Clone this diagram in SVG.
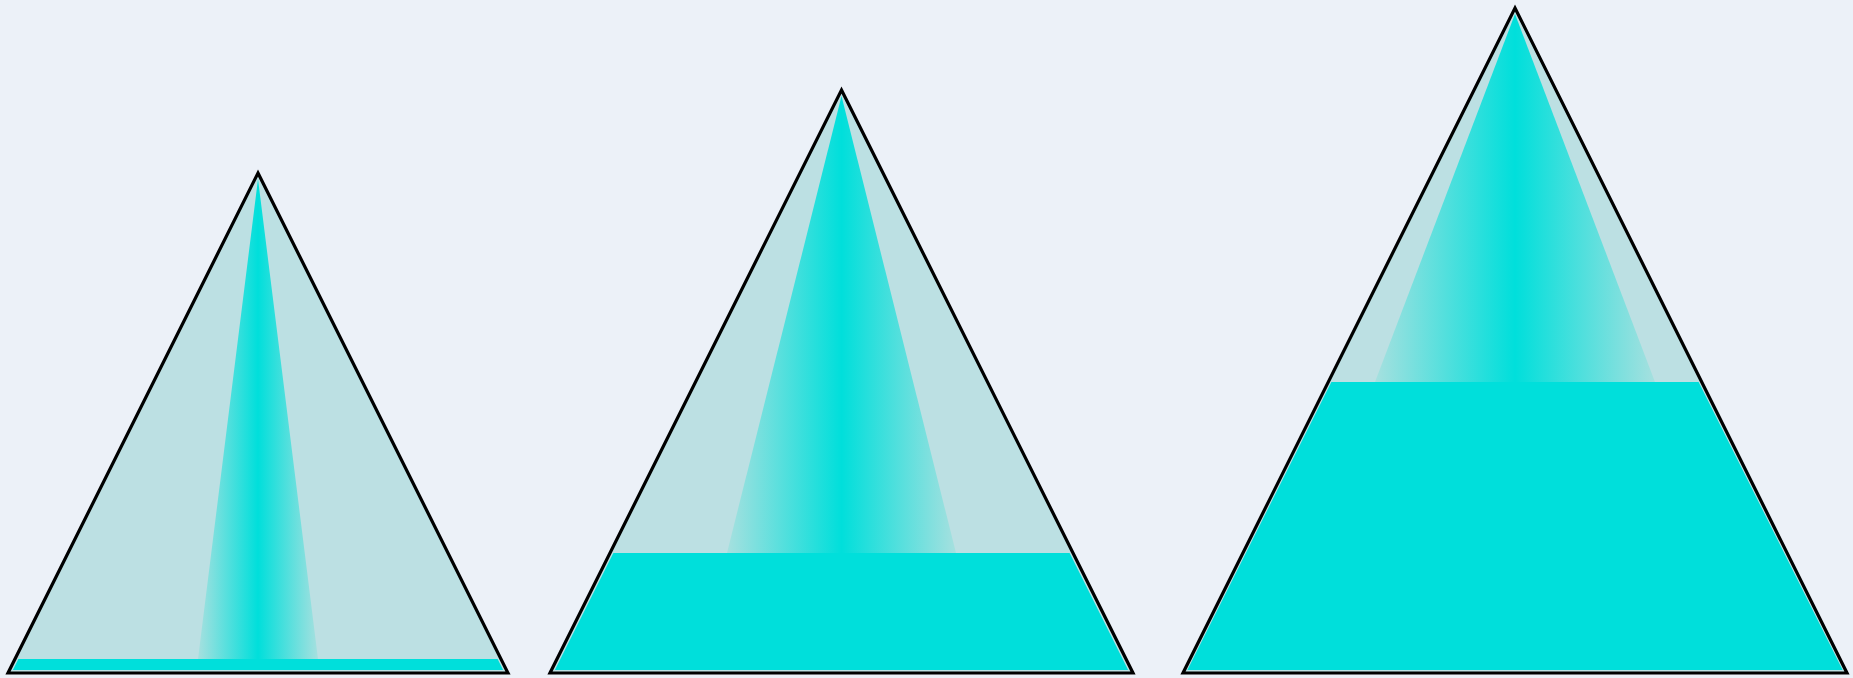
<svg xmlns="http://www.w3.org/2000/svg" width="1853" height="678" viewBox="0 0 1853 678">
<defs>
<linearGradient id="g" x1="0" y1="0" x2="1" y2="0">
<stop offset="0" stop-color="#a6e0df"/>
<stop offset="0.5" stop-color="#00dfdb"/>
<stop offset="1" stop-color="#a6e0df"/>
</linearGradient>
<style>
.outer{fill:#bce0e3;stroke:#000;stroke-width:3.2;stroke-linejoin:miter}
.inner{fill:url(#g)}
.fill{fill:#00dfdb}
</style>
</defs>
<rect width="1853" height="678" fill="#ecf1f8"/>
<g id="tri1">
<polygon class="outer" points="258,173 508,673 8,673"/>
<polygon class="inner" points="258,179 318,659 198,659"/>
<polygon class="fill" points="18.35,659 497.65,659 503.15,670 12.85,670"/>
</g>
<g id="tri2">
<polygon class="outer" points="841.5,90 1133,673 550,673"/>
<polygon class="inner" points="841.5,96 956,553 727,553"/>
<polygon class="fill" points="613.35,553 1069.65,553 1128.15,670 554.85,670"/>
</g>
<g id="tri3">
<polygon class="outer" points="1515,8 1847,673 1183,673"/>
<polygon class="inner" points="1515,14 1655,382 1375,382"/>
<polygon class="fill" points="1331.35,382 1698.65,382 1842.65,670 1187.35,670"/>
</g>
<g id="connectors"></g>
</svg>
